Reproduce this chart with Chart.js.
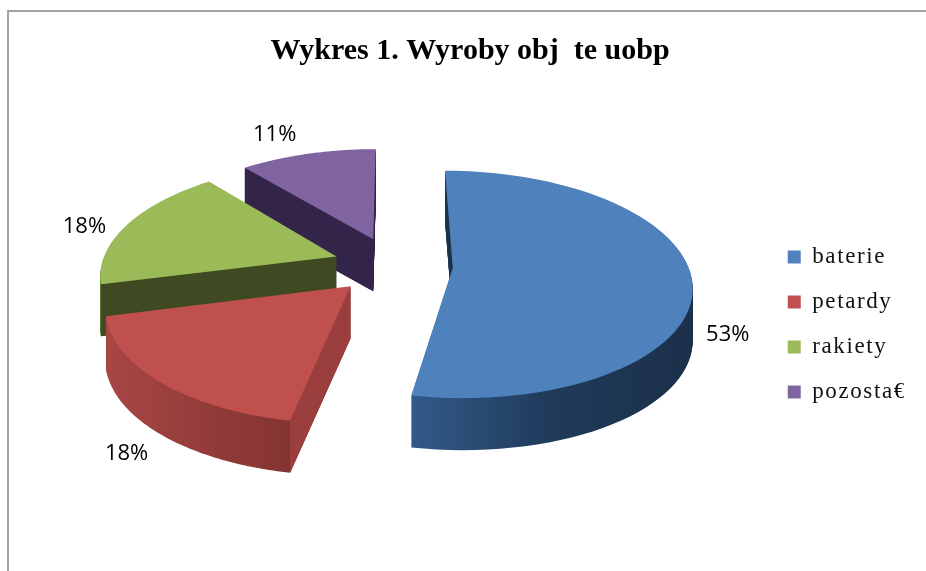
<!DOCTYPE html>
<html><head><meta charset="utf-8">
<style>
html,body{margin:0;padding:0;background:#fff;overflow:hidden}
#wrap{position:relative;width:926px;height:571px}
#frame{position:absolute;left:7px;top:10px;right:0;bottom:0;border-left:2px solid #a3a3a3;border-top:2px solid #a3a3a3}
canvas{position:absolute;left:0;top:0}
</style>
<script src="https://cdn.jsdelivr.net/npm/chart.js@4"></script>
</head><body><div id="wrap"><div id="frame"></div><canvas id="c" width="926" height="571"></canvas></div>
<script>
const titleText = 'Wykres 1. Wyroby obj  te uobp';
const categories = ['baterie', 'petardy', 'rakiety', 'pozosta€'];
const shares = [53, 18, 18, 11];
const percentLabels = ['53%', '18%', '18%', '11%'];

const topColors = ['#4f81bd', '#c0504d', '#9bbb59', '#8064a2'];
const rimStops = [['#325a88', '#1f3a5a', '#1c3049'], ['#a84644', '#8f3a38', '#7a2e2d'], ['#5d7a30', '#4a5f28', '#3f4a22'], ['#33254a', '#33254a', '#33254a']];
const cutColors = ['#1c3048', '#9a3f3d', '#3f4a22', '#33254a'];
const labelNudge = [[36, 56], [-33, 72], [-43, 2], [-33, -19]];
const RADIUS = 235, EXPLODE = 60, TILT = 0.47, PERSPECTIVE = 0.15 / 240, DEPTH = 52, SHIFT_Y = -60;

function project(el, X, Y) {
  const f = 1 / (1 - PERSPECTIVE * Y);
  return [el.x + X * f, el.y + SHIFT_Y + TILT * Y * f];
}
function outline(el) {
  const mid = (el.startAngle + el.endAngle) / 2, off = el.options.offset;
  const ox = Math.cos(mid) * off, oy = Math.sin(mid) * off;
  const pts = [project(el, ox, oy)];
  const n = 72;
  for (let i = 0; i <= n; i++) {
    const a = el.startAngle + (el.endAngle - el.startAngle) * i / n;
    pts.push(project(el, ox + el.outerRadius * Math.cos(a), oy + el.outerRadius * Math.sin(a)));
  }
  return pts;
}
function trace(ctx, pts, dy) {
  ctx.beginPath();
  pts.forEach((p, i) => i ? ctx.lineTo(p[0], p[1] + dy) : ctx.moveTo(p[0], p[1] + dy));
  ctx.closePath();
}
const pie3d = {
  id: 'pie3d',
  afterLayout(chart) {
    const lg = chart.legend, tb = chart.titleBlock;
    lg.left -= 14; lg.right -= 14; lg.top += 39; lg.bottom += 39;
    tb.left += 8; tb.right += 8;
    if (!lg._spaced) {
      lg._spaced = true;
      const draw = lg.draw;
      lg.draw = function () {
        const ctx = this.ctx;
        ctx.letterSpacing = '1.6px';
        draw.call(this);
        ctx.letterSpacing = '0px';
      };
    }
  },
  beforeDatasetDraw(chart) {
    const ctx = chart.ctx, arcs = chart.getDatasetMeta(0).data;
    ctx.save();
    for (let i = arcs.length - 1; i >= 0; i--) {
      const el = arcs[i], pts = outline(el);
      const xs = pts.map(p => p[0]);
      const g = ctx.createLinearGradient(Math.min(...xs), 0, Math.max(...xs), 0);
      rimStops[i].forEach((c, k) => g.addColorStop(k / 2, c));
      ctx.fillStyle = g;
      for (let d = DEPTH; d > 0; d--) { trace(ctx, pts, d); ctx.fill(); }
      const A = pts[0], S = pts[1], E = pts[pts.length - 1];
      const sNy = -(S[0] - A[0]), eNy = E[0] - A[0];
      ctx.fillStyle = cutColors[i];
      [[S, sNy], [E, eNy]].forEach(([P, ny]) => {
        if (ny > 0) {
          ctx.beginPath();
          ctx.moveTo(A[0], A[1]); ctx.lineTo(P[0], P[1]);
          ctx.lineTo(P[0], P[1] + DEPTH); ctx.lineTo(A[0], A[1] + DEPTH);
          ctx.closePath(); ctx.fill();
        }
      });
      ctx.fillStyle = topColors[i];
      trace(ctx, pts, 0); ctx.fill();
    }
    ctx.fillStyle = '#000';
    ctx.font = '22px "Open Sans"';
    ctx.textAlign = 'center';
    ctx.textBaseline = 'middle';
    arcs.forEach((el, i) => {
      const mid = (el.startAngle + el.endAngle) / 2, r = el.outerRadius + el.options.offset;
      const p = project(el, r * Math.cos(mid), r * Math.sin(mid));
      ctx.fillText(percentLabels[i], p[0] + labelNudge[i][0], p[1] + labelNudge[i][1]);
    });
    ctx.restore();
    return false;
  }
};
new Chart(document.getElementById('c'), {
  type: 'pie',
  data: { labels: categories, datasets: [{ data: shares, backgroundColor: topColors, borderWidth: 0, offset: EXPLODE, radius: RADIUS }] },
  plugins: [pie3d],
  options: {
    responsive: false, animation: false, events: [],
    layout: { padding: { left: 6, right: 8, top: 0, bottom: 0 } },
    plugins: {
      tooltip: { enabled: false },
      title: { display: true, text: titleText, color: '#000', font: { family: '"Liberation Serif"', size: 30, weight: 'bold' }, padding: { top: 33, bottom: 10 } },
      legend: { position: 'right', labels: { color: '#111', boxWidth: 13, boxHeight: 13, padding: 22, font: { family: '"Liberation Serif"', size: 23 } } }
    }
  }
});
</script></body></html>
